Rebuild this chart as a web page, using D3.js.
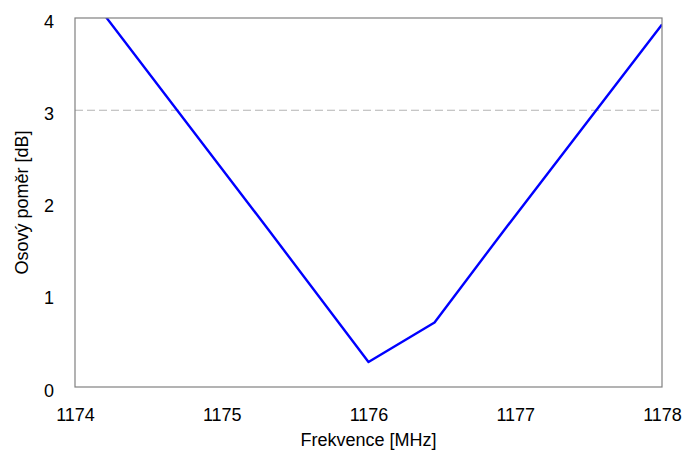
<!DOCTYPE html>
<html>
<head>
<meta charset="utf-8">
<script src="https://cdn.jsdelivr.net/npm/d3@7"></script>
<style>
body { margin: 0; background: #fff; }
text { font-family: "Liberation Sans", Arial, sans-serif; fill: #000; }
</style>
</head>
<body>
<svg id="chart"></svg>
<script>
// data
var freq = [1174, 1175.33, 1176, 1176.45, 1176.91, 1178];
var ratio = [4.45, 1.68, 0.27, 0.70, 1.67, 3.93];
var xTicks = [1174, 1175, 1176, 1177, 1178];
var yTicks = [0, 1, 2, 3, 4];
var refLevel = 3;

var width = 686, height = 453;
var plotLeft = 75, plotRight = 662, plotTop = 18, plotBottom = 387;

var svg = d3.select("#chart")
	.attr("width", width)
	.attr("height", height);

var x = d3.scaleLinear().domain([1174, 1178]).range([plotLeft, plotRight]);
var y = d3.scaleLinear().domain([0, 4]).range([plotBottom, plotTop]);

svg.append("clipPath").attr("id", "plotclip")
	.append("rect")
	.attr("x", plotLeft).attr("y", plotTop)
	.attr("width", plotRight - plotLeft).attr("height", plotBottom - plotTop);

// dashed 3 dB line
svg.append("line")
	.attr("x1", plotLeft).attr("x2", plotRight)
	.attr("y1", y(refLevel)).attr("y2", y(refLevel))
	.attr("stroke", "#b4b4b4")
	.attr("stroke-width", 1.2)
	.attr("stroke-dasharray", "8,4");

// axes without tick marks, only labels
var xAxis = d3.axisBottom(x).tickValues(xTicks).tickSize(0).tickPadding(21).tickFormat(d3.format("d"));
var gx = svg.append("g").attr("transform", "translate(0," + plotBottom + ")").call(xAxis);
gx.select(".domain").remove();
gx.attr("font-family", null).attr("font-size", null);
gx.selectAll("text").style("font-size", "18px");

var yAxis = d3.axisLeft(y).tickValues(yTicks).tickSize(0).tickPadding(21).tickFormat(d3.format("d"));
var gy = svg.append("g").attr("transform", "translate(" + plotLeft + ",0)").call(yAxis);
gy.select(".domain").remove();
gy.attr("font-family", null).attr("font-size", null);
gy.selectAll("text").style("font-size", "18px").attr("dy", "0.5em");

// curve
var line = d3.line()
	.x(function(d, i) { return x(freq[i]); })
	.y(function(d) { return y(d); });

svg.append("path")
	.datum(ratio)
	.attr("clip-path", "url(#plotclip)")
	.attr("fill", "none")
	.attr("stroke", "#0000ff")
	.attr("stroke-width", 2.4)
	.attr("stroke-linejoin", "round")
	.attr("d", line);

// frame
svg.append("rect")
	.attr("x", plotLeft).attr("y", plotTop)
	.attr("width", plotRight - plotLeft).attr("height", plotBottom - plotTop)
	.attr("fill", "none")
	.attr("stroke", "#808080")
	.attr("stroke-width", 1.2);

// titles
svg.append("text")
	.attr("x", (plotLeft + plotRight) / 2)
	.attr("y", 446)
	.attr("text-anchor", "middle")
	.style("font-size", "18px")
	.text("Frekvence [MHz]");

svg.append("text")
	.attr("transform", "translate(28," + (plotTop + plotBottom) / 2 + ")rotate(-90)")
	.attr("text-anchor", "middle")
	.style("font-size", "18px")
	.text("Osový poměr [dB]");
</script>
</body>
</html>
